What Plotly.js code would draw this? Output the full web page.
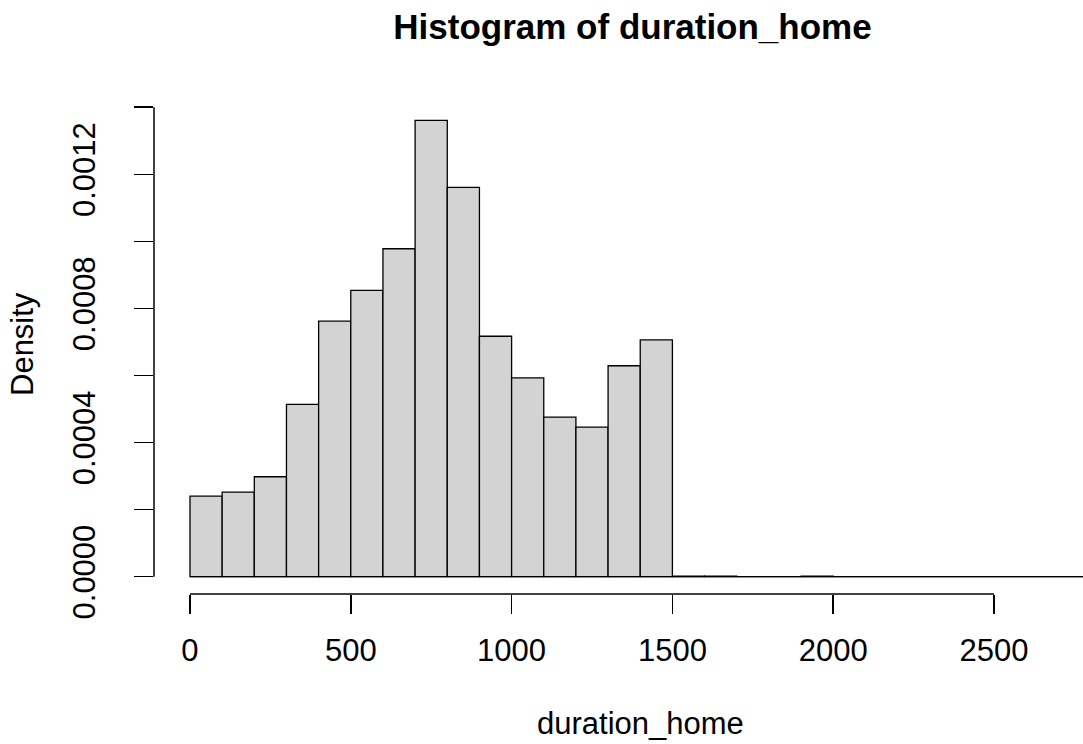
<!DOCTYPE html>
<html><head><meta charset="utf-8">
<script src="https://cdn.plot.ly/plotly-3.0.1.min.js"></script>
<style>html,body{margin:0;padding:0;background:#fff;overflow:hidden}</style>
</head><body><div id="chart" style="width:1083px;height:744px"></div>
<script>
// Histogram bins (left edges) and bin width
const binStarts = [0,100,200,300,400,500,600,700,800,900,1000,1100,1200,1300,1400,
                   1500,1600,1700,1800,1900,2000,2100,2200,2300,2400,2500,2600,2700];
const binWidth = 100;
// Density per bin
const density = [0.000240,0.000252,0.000298,0.000514,0.000762,0.000854,0.000978,0.001361,
                 0.001161,0.000717,0.000593,0.000476,0.000446,0.000629,0.000706,
                 0.000002,0.000002,0,0,0.000002,0,0,0,0,0,0,0,0];
const xTickVals = [0,500,1000,1500,2000,2500];
const xTickText = ['0','500','1000','1500','2000','2500'];
const yTickVals = [0,0.0002,0.0004,0.0006,0.0008,0.0010,0.0012,0.0014];
const yTickText = ['0.0000','','0.0004','','0.0008','','0.0012',''];

const FONT = 'Liberation Sans, Arial, Helvetica, sans-serif';
const binCenters = binStarts.map(s => s + binWidth / 2);
const lastEdge = binStarts[binStarts.length - 1] + binWidth;

const trace = {
  type: 'bar',
  x: binCenters,
  y: density,
  width: binStarts.map(() => binWidth),
  marker: {color: '#D3D3D3', line: {color: '#000000', width: 1.3}},
  hoverinfo: 'x+y'
};

const layout = {
  width: 1083, height: 744,
  paper_bgcolor: '#ffffff', plot_bgcolor: '#ffffff',
  margin: {l: 154, r: 0, t: 102, b: 150, pad: 0},
  showlegend: false,
  bargap: 0,
  font: {family: FONT, color: '#000000', size: 31},
  title: {
    text: 'Histogram of duration_home',
    font: {family: FONT, size: 35, weight: 'bold', color: '#000000'},
    xref: 'container', x: 632.5 / 1083, xanchor: 'center',
    yref: 'container', y: 1 - 26.8 / 744, yanchor: 'middle'
  },
  xaxis: {
    range: [-111.9, 2776.7],
    showgrid: false, zeroline: false, showline: false,
    ticks: 'outside', ticklen: 19, tickwidth: 1.5, tickcolor: '#000000',
    tickmode: 'array', tickvals: xTickVals, ticktext: xTickText,
    tickfont: {family: FONT, size: 31, color: '#000000'},
    ticklabelstandoff: 10,
    fixedrange: true
  },
  yaxis: {
    range: [-0.0000516, 0.0014156],
    showgrid: false, zeroline: false, showline: false,
    ticks: 'outside', ticklen: 19, tickwidth: 1.5, tickcolor: '#000000',
    tickmode: 'array', tickvals: yTickVals, ticktext: yTickText,
    tickangle: -90,
    tickfont: {family: FONT, size: 31, color: '#000000'},
    ticklabelstandoff: 27,
    fixedrange: true
  },
  shapes: [
    // x axis line (spans tick range)
    {type: 'line', xref: 'x', yref: 'paper', x0: xTickVals[0], x1: xTickVals[xTickVals.length - 1],
     y0: 0, y1: 0, line: {color: '#000000', width: 1.5}},
    // y axis line (spans tick range)
    {type: 'line', xref: 'paper', yref: 'y', x0: 0, x1: 0,
     y0: yTickVals[0], y1: yTickVals[yTickVals.length - 1], line: {color: '#000000', width: 1.5}},
    // baseline of empty bins
    {type: 'line', xref: 'x', yref: 'y', x0: binStarts[0], x1: lastEdge, y0: 0, y1: 0,
     line: {color: '#000000', width: 1.3}}
  ],
  annotations: [
    {text: 'duration_home', xref: 'paper', yref: 'paper', x: (640 - 154) / 929, y: (594 - 723.3) / 492,
     xanchor: 'center', yanchor: 'middle', showarrow: false,
     font: {family: FONT, size: 31, color: '#000000'}},
    {text: 'Density', xref: 'paper', yref: 'paper', x: (22 - 154) / 929, y: (594 - 344) / 492,
     xanchor: 'center', yanchor: 'middle', showarrow: false, textangle: -90,
     font: {family: FONT, size: 31, color: '#000000'}}
  ]
};

Plotly.newPlot('chart', [trace], layout, {displayModeBar: false, staticPlot: true});
</script>
</body></html>
